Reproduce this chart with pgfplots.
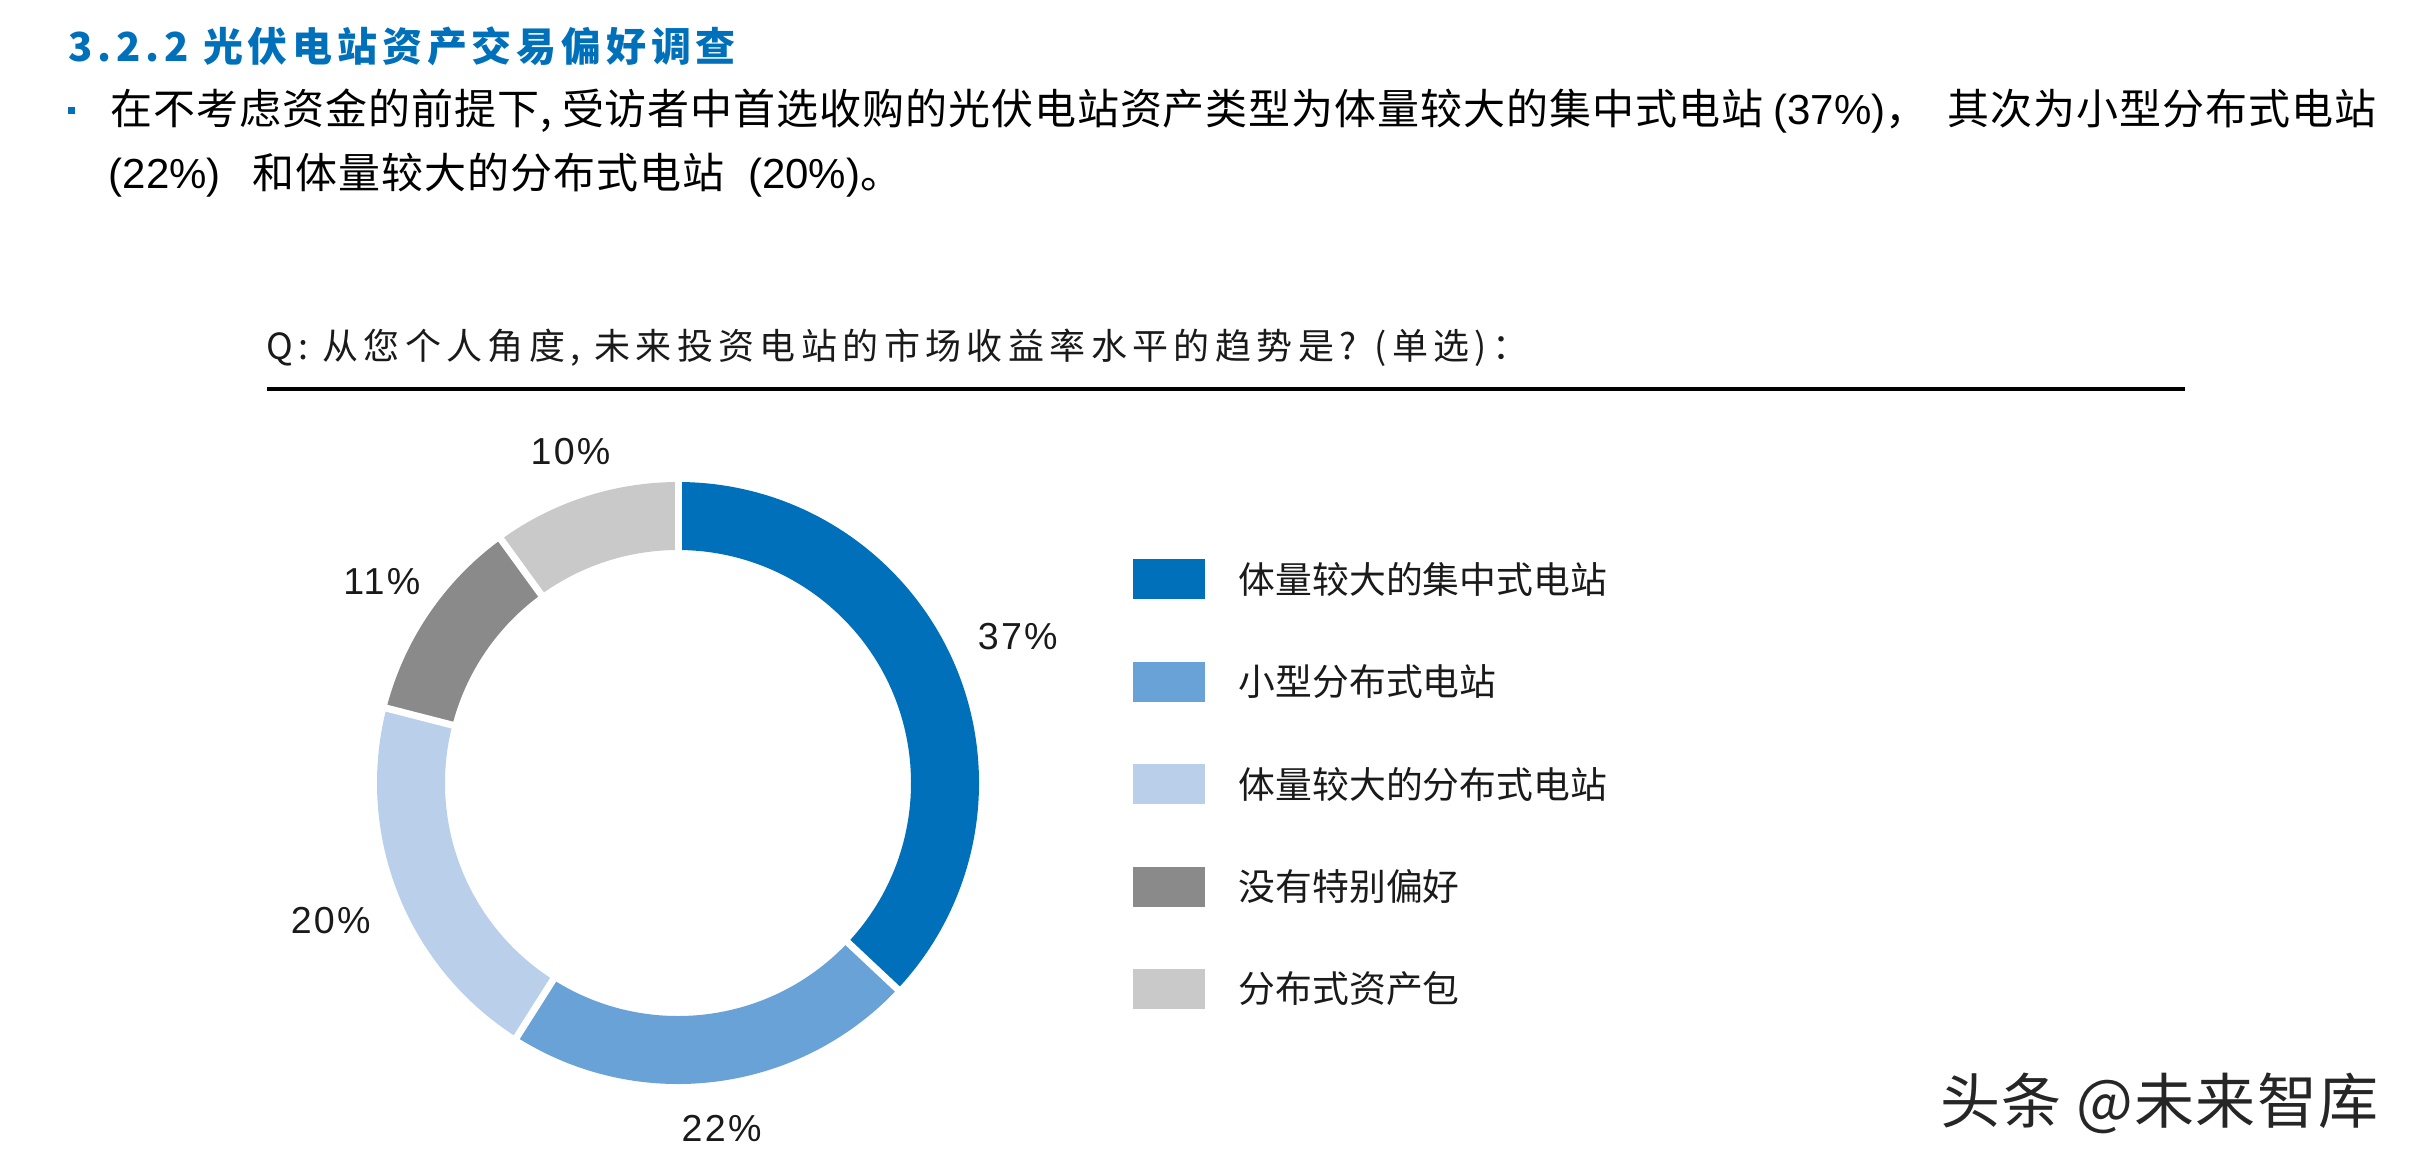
\documentclass[border=0pt]{standalone}
\usepackage{pgfplots}
\pgfplotsset{compat=1.18}
\usepackage{pgfplotstable}
\usepackage{fontspec}
\setmainfont{Liberation Sans}
\newfontfamily\cjk{Noto Sans CJK SC}
\newfontfamily\cjkb{Noto Sans CJK SC}[LetterSpace=2.2]
\usetikzlibrary{calc}
\definecolor{c1}{HTML}{0070BB}
\definecolor{c2}{HTML}{68A2D6}
\definecolor{c3}{HTML}{B9CFEA}
\definecolor{c4}{HTML}{8A8A8A}
\definecolor{c5}{HTML}{C8C9C8}
\definecolor{titleblue}{HTML}{0070BB}
\definecolor{txt}{HTML}{1A1A1A}

\pgfplotstableread[col sep=comma]{
share,colour
37,c1
22,c2
20,c3
11,c4
10,c5
}\sharetable

\begin{document}
\begin{tikzpicture}
\begin{axis}[x=0.25pt, y=0.25pt, y dir=reverse,
  xmin=0, xmax=2416, ymin=0, ymax=1170,
  hide axis, clip=false]
\addplot[draw=none, forget plot] coordinates {(0,0) (2416,1170)};
\pgfplotsextra{
  \coordinate (C) at (axis cs:678,783);
  % donut segments
  \gdef\cum{0}
  \foreach \i in {0,...,4}{
    \pgfplotstablegetelem{\i}{share}\of\sharetable \let\v\pgfplotsretval
    \pgfplotstablegetelem{\i}{colour}\of\sharetable \let\col\pgfplotsretval
    \pgfmathsetmacro\aone{90-3.6*\cum}
    \pgfmathsetmacro\atwo{\aone-3.6*\v}
    \pgfmathsetmacro\amid{(\aone+\atwo)/2}
    \pgfmathsetmacro\anc{mod(\amid+180+720,360)}
    \fill[fill=\col] ($(C)+(\aone:75.25pt)$) arc[start angle=\aone, end angle=\atwo, radius=75.25pt]
      -- ($(C)+(\atwo:58.25pt)$) arc[start angle=\atwo, end angle=\aone, radius=58.25pt] -- cycle;
    \node[anchor=\anc, inner sep=0pt, text=txt, font=\fontsize{9.4pt}{11pt}\selectfont\addfontfeatures{LetterSpace=6}]
      at ($(C)+(\amid:83.5pt)$) {\v\%};
    \pgfmathsetmacro\newcum{\cum+\v}
    \xdef\cum{\newcum}
  }
  % white separators
  \foreach \b in {0,37,59,79,90}{
    \draw[white, line width=1.75pt] ($(C)+(90-3.6*\b:56pt)$) -- ($(C)+(90-3.6*\b:77pt)$);
  }
  % legend
  \foreach \name [count=\k from 0] in {体量较大的集中式电站,小型分布式电站,体量较大的分布式电站,没有特别偏好,分布式资产包}{
    \pgfplotstablegetelem{\k}{colour}\of\sharetable \let\col\pgfplotsretval
    \pgfmathsetmacro\yc{579+102.5*\k}
    \pgfmathsetmacro\ya{\yc-20}
    \pgfmathsetmacro\yb{\yc+20}
    \fill[fill=\col] (axis cs:1133,\ya) rectangle (axis cs:1205,\yb);
    \node[anchor=west, inner sep=0pt, text=txt, font=\cjk\fontsize{9.2pt}{11pt}\selectfont] at (axis cs:1238,\yc) {\name};
  }
  % header texts
  \node[anchor=west, inner sep=0pt, text=titleblue, font=\cjk\bfseries\fontsize{10pt}{12pt}\selectfont\addfontfeatures{LetterSpace=12}]
    at (axis cs:68,46.5) {3.2.2 光伏电站资产交易偏好调查};
  \fill[titleblue] (axis cs:68,107) rectangle (axis cs:75,114);
  \node[anchor=west, inner sep=0pt, font=\fontsize{10.5pt}{12pt}\selectfont]
    at (axis cs:110,111.5) {{\cjkb 在不考虑资金的前提下, 受访者中首选收购的光伏电站资产类型为体量较大的集中式电站 }(37\%){\cjkb ，\ \ 其次为小型分布式电站}};
  \node[anchor=west, inner sep=0pt, font=\fontsize{10.5pt}{12pt}\selectfont]
    at (axis cs:108,175) {(22\%)\hspace{8pt}{\cjkb 和体量较大的分布式电站}\hspace{6pt}(20\%){\cjkb 。}};
  \node[anchor=west, inner sep=0pt, text=txt, font=\cjk\fontsize{9pt}{11pt}\selectfont\addfontfeatures{LetterSpace=15}]
    at (axis cs:266,347.5) {Q: 从您个人角度, 未来投资电站的市场收益率水平的趋势是? (单选)：};
  \draw[black, line width=1pt] (axis cs:267,389) -- (axis cs:2185,389);
  \node[anchor=west, inner sep=0pt, text=black!85, font=\cjk\fontsize{15pt}{17pt}\selectfont\addfontfeatures{LetterSpace=2}]
    at (axis cs:1940,1103) {头条 @未来智库};
}
\end{axis}
\pgfresetboundingbox
\path (current axis.south west) rectangle (current axis.north east);
\end{tikzpicture}
\end{document}
